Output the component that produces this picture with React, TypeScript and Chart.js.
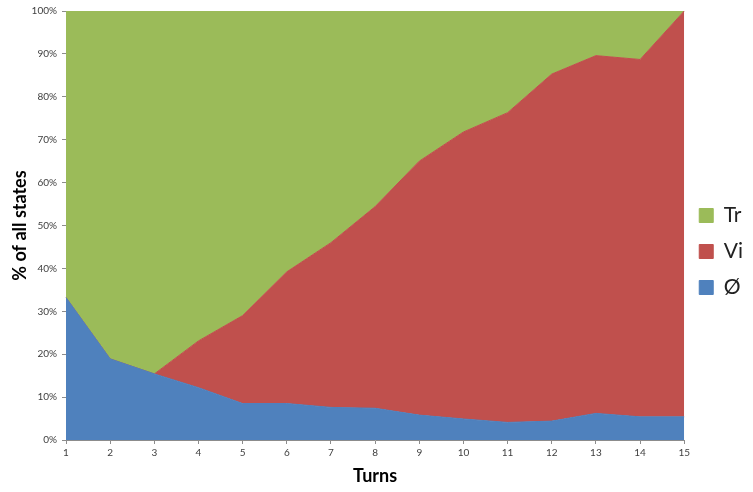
import React, { useEffect, useRef } from "react";
import { Chart, registerables } from "chart.js";

Chart.register(...registerables);

const turns = ["1", "2", "3", "4", "5", "6", "7", "8", "9", "10", "11", "12", "13", "14", "15"];
const seriesNames = ["Ø", "Vi", "Tr"];
const emptyValues = [33.2, 18.9, 15.4, 12.2, 8.5, 8.5, 7.6, 7.4, 5.8, 4.9, 4.1, 4.4, 6.2, 5.4, 5.4];
const viValues = [0, 0, 0, 10.9, 20.5, 30.7, 38.4, 47.0, 59.2, 66.9, 72.2, 80.9, 83.4, 83.3, 94.6];
const trValues = [66.8, 81.1, 84.6, 76.9, 71.0, 60.8, 54.0, 45.6, 35.0, 28.2, 23.7, 14.7, 10.4, 11.3, 0];
const colors = ["#4F81BD", "#C0504D", "#9BBB59"];

const FONT = "Lato";

export default function App() {
  const ref = useRef<HTMLCanvasElement | null>(null);

  useEffect(() => {
    if (!ref.current) return;
    const values = [emptyValues, viValues, trValues];
    const chart = new Chart(ref.current, {
      type: "line",
      data: {
        labels: turns,
        datasets: values.map((v, i) => ({
          label: seriesNames[i],
          data: v,
          backgroundColor: colors[i],
          borderColor: colors[i],
          borderWidth: 1,
          pointRadius: 0,
          tension: 0,
          fill: i === 0 ? "origin" : "-1",
        })),
      },
      options: {
        animation: false,
        responsive: false,
        layout: { padding: { top: 11, left: 0, right: 0, bottom: 0 } },
        plugins: {
          tooltip: { enabled: false },
          legend: {
            position: "right",
            fullSize: true,
            reverse: true,
            labels: {
              boxWidth: 14,
              boxHeight: 14,
              padding: 15,
              color: "#222",
              font: { family: FONT, size: 21 },
            },
          },
        },
        scales: {
          x: {
            offset: false,
            afterFit: (s: any) => {
              s.height = 52;
            },
            grid: { display: true, drawOnChartArea: false, drawTicks: true, tickLength: 4, color: "#8c8c8c" },
            border: { color: "#8c8c8c" },
            ticks: { padding: 3, color: "#404040", font: { family: FONT, size: 10 }, maxRotation: 0, autoSkip: false },
            title: {
              display: true,
              text: "Turns",
              color: "#000",
              font: { family: FONT, size: 18, weight: "bold" },
              padding: { top: 0, bottom: 5 },
            },
          },
          y: {
            stacked: true,
            min: 0,
            max: 100,
            afterFit: (s: any) => {
              s.width = 66;
            },
            grid: { display: true, drawOnChartArea: false, drawTicks: true, tickLength: 4, color: "#8c8c8c" },
            border: { color: "#8c8c8c" },
            ticks: {
              stepSize: 10,
              padding: 5,
              color: "#404040",
              font: { family: FONT, size: 10 },
              callback: (v: any) => v + "%",
            },
            title: {
              display: true,
              text: "% of all states",
              color: "#000",
              font: { family: FONT, size: 18, weight: "bold" },
              padding: { top: 9, bottom: 0 },
            },
          },
        },
      },
    });
    return () => chart.destroy();
  }, []);

  return (
    <div style={{ position: "fixed", left: 0, top: 0, width: 753, height: 492, background: "#fff" }}>
      <canvas ref={ref} width={753} height={492} />
    </div>
  );
}
